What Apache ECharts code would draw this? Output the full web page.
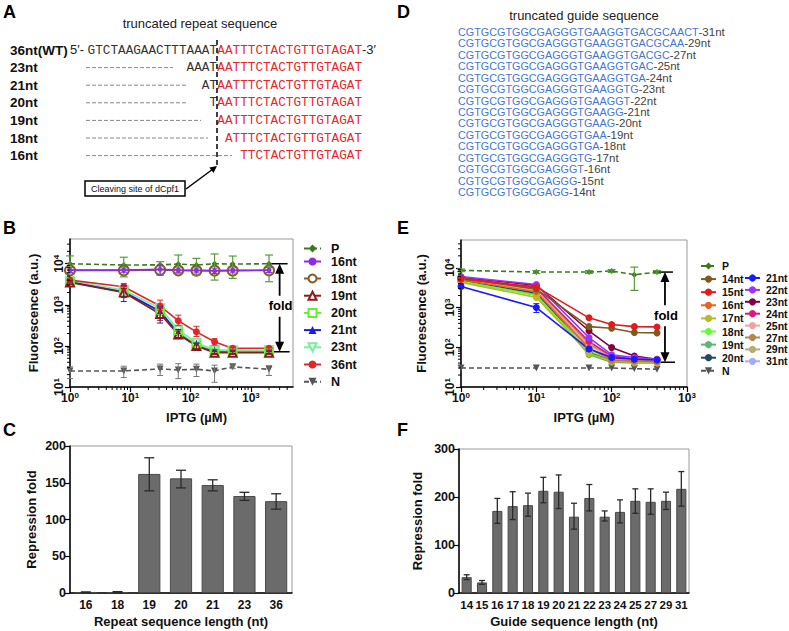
<!DOCTYPE html>
<html><head><meta charset="utf-8">
<script src="https://cdn.jsdelivr.net/npm/echarts@6/dist/echarts.min.js"></script>
<style>html,body{margin:0;padding:0;background:#fff}#c{width:789px;height:631px}</style>
</head><body><div id="c"></div>
<script>
// ---------------- DATA ----------------
// Panel A
const repeatRowLabels = ['36nt(WT)','23nt','21nt','20nt','19nt','18nt','16nt'];
const repeatBlack = ['GTCTAAGAACTTTAAAT','AAAT','AT','T','','',''];
const repeatRed = ['AATTTCTACTGTTGTAGAT','AATTTCTACTGTTGTAGAT','AATTTCTACTGTTGTAGAT','AATTTCTACTGTTGTAGAT','AATTTCTACTGTTGTAGAT','ATTTCTACTGTTGTAGAT','TTCTACTGTTGTAGAT'];
// Panel D
const guideSeqs = ['CGTGCGTGGCGAGGGTGAAGGTGACGCAACT','CGTGCGTGGCGAGGGTGAAGGTGACGCAA','CGTGCGTGGCGAGGGTGAAGGTGACGC','CGTGCGTGGCGAGGGTGAAGGTGAC','CGTGCGTGGCGAGGGTGAAGGTGA','CGTGCGTGGCGAGGGTGAAGGTG','CGTGCGTGGCGAGGGTGAAGGT','CGTGCGTGGCGAGGGTGAAGG','CGTGCGTGGCGAGGGTGAAG','CGTGCGTGGCGAGGGTGAA','CGTGCGTGGCGAGGGTGA','CGTGCGTGGCGAGGGTG','CGTGCGTGGCGAGGGT','CGTGCGTGGCGAGGG','CGTGCGTGGCGAGG'];
const guideLens = ['31nt','29nt','27nt','25nt','24nt','23nt','22nt','21nt','20nt','19nt','18nt','17nt','16nt','15nt','14nt'];

// Panel B (IPTG uM vs fluorescence)
const iptgB = [1, 7.8, 31.25, 62.5, 125, 250, 500, 2000];
const bP   = [10000, 9300, 9400, 9800, 9300, 10000, 9800, 10000];
const bP_lo = [6100, 4800, 5300, 5900, 5300, 4000, 4400, 3650];
const bP_hi = [15500, 14400, 11200, 16300, 13500, 17300, 15400, 16300];
const b16  = [7000, 7000, 7300, 7000, 6900, 6700, 6900, 7000];
const b16_lo = [6000, 6200, 5300, 6200, 6000, 5800, 6000, 6100];
const b16_hi = [8000, 7900, 9300, 7900, 7900, 7800, 7900, 8000];
const b18  = [6900, 6900, 7100, 6900, 6800, 6800, 6800, 6900];
const b19  = [3500, 2000, 600, 190, 100, 68, 68, 68];
const b19_lo = [3100, 1500, 420, 150, 85, 62, 62, 62];
const b19_hi = [3900, 2500, 800, 230, 115, 74, 74, 74];
const b20  = [3700, 2100, 680, 215, 108, 76, 76, 76];
const b20_lo = [3100, 1700, 580, 190, 95, 68, 68, 68];
const b20_hi = [4300, 2600, 800, 245, 120, 84, 84, 84];
const b21  = [3600, 2050, 700, 200, 100, 72, 70, 70];
const b21_lo = [3200, 1200, 360, 160, 85, 65, 65, 65];
const b21_hi = [4000, 3000, 890, 250, 118, 80, 76, 76];
const b23  = [3800, 2300, 820, 250, 120, 80, 78, 78];
const b36  = [4000, 2760, 935, 410, 220, 126, 87, 88];
const b36_lo = [3600, 2300, 720, 310, 170, 105, 80, 80];
const b36_hi = [4400, 3300, 1300, 560, 300, 150, 96, 96];
const bN   = [24.6, 24.6, 27.5, 26, 27, 24.6, 31, 27];
const bN_lo = [16, 17, 19, 16, 18, 13, 28, 19];
const bN_hi = [31, 32, 36, 37, 36, 34, 34, 33];
const bTicksX = [1, 10, 100, 1000];
const bTicksY = [10, 100, 1000, 10000];
const foldB = {x: 3000, top: 10000, bottom: 72};

// Panel E
const iptgE = [1, 10, 50, 100, 200, 400];
const eP   = [8600, 7800, 7800, 8300, 6700, 7800];
const eP_lo = [8000, 7200, 7200, 7600, 2700, 7200];
const eP_hi = [9300, 8500, 8500, 9000, 10400, 8500];
const e14 = [5500, 2900, 330, 300, 235, 230];
const e15 = [5200, 3300, 550, 375, 330, 325];
const e16 = [5000, 2500, 95, 48, 45, 44];
const e17 = [4300, 1800, 70, 45, 42, 40];
const e18 = [4600, 2000, 80, 50, 45, 45];
const e19 = [4500, 2100, 65, 42, 40, 40];
const e20 = [4800, 2300, 75, 48, 42, 42];
const e21 = [3400, 1000, 90, 55, 50, 48];
const e21_lo = [3000, 750, 80, 50, 45, 43];
const e21_hi = [3900, 1250, 100, 60, 55, 53];
const e22 = [6000, 3800, 175, 65, 55, 50];
const e23 = [5800, 3600, 260, 98, 60, 50];
const e24 = [5500, 3100, 140, 60, 50, 45];
const e25 = [5000, 2700, 110, 55, 48, 45];
const e27 = [5200, 2900, 120, 58, 50, 47];
const e29 = [4700, 2200, 95, 52, 46, 44];
const e31 = [5300, 3000, 130, 60, 52, 48];
const eN  = [30, 30, 30, 30, 29, 28];
const eTicksX = [1, 10, 100, 1000];
const eTicksY = [10, 100, 1000, 10000];
const foldE = {x: 510, top: 7800, bottom: 42};

// Panel C
const repeatLenCats = ['16','18','19','20','21','23','36'];
const repeatFold    = [1, 1.2, 162, 156, 147, 132, 125];
const repeatFold_lo = [0.5, 0.6, 139, 143, 139, 126, 114];
const repeatFold_hi = [1.5, 1.8, 184, 167, 154, 137, 135];

// Panel F
const guideLenCats = ['14','15','16','17','18','19','20','21','22','23','24','25','27','29','31'];
const guideFold    = [33, 22, 171, 181, 183, 213, 211, 159, 198, 159, 169, 192, 190, 192, 217];
const guideFold_lo = [28, 18, 145, 153, 160, 188, 176, 133, 171, 150, 146, 166, 164, 174, 181];
const guideFold_hi = [38, 26, 197, 211, 208, 241, 246, 187, 226, 171, 194, 217, 217, 210, 253];

// ---------------- STYLE / HELPERS ----------------
const F = '"Liberation Sans", Arial, Helvetica, sans-serif';
const MONO = '"Liberation Mono", "Courier New", monospace';
const chart = echarts.init(document.getElementById('c'), null, {renderer: 'svg'});

function powLabel(v) {
  const e = Math.log10(v);
  if (Math.abs(e - Math.round(e)) > 1e-6) return '';
  return '{b|10}{s|' + Math.round(e) + '}';
}
const powRich = {
  b: {fontSize: 12, fontWeight: 'bold', fontFamily: F, color: '#111', lineHeight: 14},
  s: {fontSize: 8, fontWeight: 'bold', fontFamily: F, color: '#111', lineHeight: 8, verticalAlign: 'top'}
};
const axisLineS = {lineStyle: {color: '#000', width: 1.5}};
const nameS = (shift) => ({fontWeight: 'bold', fontSize: 13, color: '#111', fontFamily: F, padding: [0, 0, 0, shift || 0]});

function logAxis(gi, min, max, ticks, name, gap, shift, isY) {
  return {
    type: 'log', logBase: 10, gridIndex: gi, min: min, max: max,
    name: name, nameLocation: 'middle', nameGap: gap, nameTextStyle: nameS(shift),
    axisLine: axisLineS,
    axisTick: {customValues: ticks, length: 5, lineStyle: {color: '#000', width: 1.2}},
    axisLabel: {customValues: ticks, formatter: powLabel, rich: powRich, margin: 4, rotate: isY ? 90 : 0},
    splitLine: {show: false}, minorTick: {show: false}
  };
}
function minorTicks(min, max) {
  const out = [];
  for (let e = Math.floor(Math.log10(min)); e <= Math.ceil(Math.log10(max)); e++) {
    for (let k = 2; k <= 9; k++) { const v = k * Math.pow(10, e); if (v > min && v < max) out.push(v); }
  }
  return out;
}
function minorTickSeries(gi, dim, vals, xmin, ymin) {
  return {
    type: 'custom', xAxisIndex: gi, yAxisIndex: gi, silent: true, clip: false, z: 5,
    data: vals.map(v => dim === 'y' ? [xmin, v] : [v, ymin]),
    encode: {x: 0, y: 1},
    renderItem: function (params, api) {
      const p = api.coord([api.value(0), api.value(1)]);
      const shape = dim === 'y' ? {x1: p[0] - 3, y1: p[1], x2: p[0], y2: p[1]} : {x1: p[0], y1: p[1], x2: p[0], y2: p[1] + 3};
      return {type: 'line', shape: shape, style: {stroke: '#000', lineWidth: 1}};
    }
  };
}
function errSeries(gi, color, xs, lo, hi, cap, lw) {
  return {
    type: 'custom', xAxisIndex: gi, yAxisIndex: gi, silent: true, clip: false, z: 4,
    data: xs.map((x, i) => [x, lo[i], hi[i]]),
    encode: {x: 0, y: [1, 2]},
    renderItem: function (params, api) {
      const x = api.value(0);
      const a = api.coord([x, api.value(1)]), b = api.coord([x, api.value(2)]);
      const st = {stroke: color, lineWidth: lw};
      return {type: 'group', children: [
        {type: 'line', shape: {x1: a[0], y1: a[1], x2: b[0], y2: b[1]}, style: st},
        {type: 'line', shape: {x1: a[0] - cap, y1: a[1], x2: a[0] + cap, y2: a[1]}, style: st},
        {type: 'line', shape: {x1: b[0] - cap, y1: b[1], x2: b[0] + cap, y2: b[1]}, style: st}
      ]};
    }
  };
}
function lineSeries(gi, name, xs, ys, color, symbol, size, opts) {
  opts = opts || {};
  return {
    type: 'line', name: name, xAxisIndex: gi, yAxisIndex: gi,
    data: xs.map((x, i) => [x, ys[i]]),
    symbol: symbol, symbolSize: size, symbolRotate: opts.rotate || 0,
    lineStyle: {color: color, width: opts.width || 1.6, type: opts.dashed ? [5, 3] : 'solid'},
    itemStyle: {color: color, borderWidth: opts.bw || 1.5},
    emphasis: {disabled: true}, animation: false, z: opts.z || 2
  };
}

// ---------------- SERIES ----------------
const series = [];
// Panel B
series.push(lineSeries(0, 'B|N', iptgB, bN, '#555', 'triangle', 7, {dashed: true, rotate: 180}));
series.push(lineSeries(0, 'B|P', iptgB, bP, '#3b7a1c', 'diamond', 6, {dashed: true, z: 3}));
series.push(lineSeries(0, 'B|18nt', iptgB, b18, '#8a5a2b', 'emptyCircle', 10));
series.push(lineSeries(0, 'B|16nt', iptgB, b16, '#8e2be2', 'circle', 5, {z: 3}));
series.push(lineSeries(0, 'B|20nt', iptgB, b20, '#66ee33', 'emptyRect', 8));
series.push(lineSeries(0, 'B|23nt', iptgB, b23, '#77eea0', 'emptyTriangle', 8, {rotate: 180}));
series.push(lineSeries(0, 'B|21nt', iptgB, b21, '#1a1aee', 'triangle', 7));
series.push(lineSeries(0, 'B|36nt', iptgB, b36, '#e3262a', 'circle', 7));
series.push(lineSeries(0, 'B|19nt', iptgB, b19, '#8b1a1a', 'emptyTriangle', 8));
series.push(errSeries(0, '#5a9a3a', iptgB, bP_lo, bP_hi, 4, 1.2));
series.push(errSeries(0, '#8e2be2', iptgB, b16_lo, b16_hi, 3, 1));
series.push(errSeries(0, '#66ee33', iptgB, b20_lo, b20_hi, 3, 1));
series.push(errSeries(0, '#1a1aee', iptgB, b21_lo, b21_hi, 3, 1));
series.push(errSeries(0, '#e3262a', iptgB, b36_lo, b36_hi, 3, 1));
series.push(errSeries(0, '#8b1a1a', iptgB, b19_lo, b19_hi, 3, 1));
series.push(errSeries(0, '#777', iptgB, bN_lo, bN_hi, 3, 1));
series.push(minorTickSeries(0, 'y', minorTicks(10, 40000), 1, 10));
series.push(minorTickSeries(0, 'x', minorTicks(1, 5000), 1, 10));

// Panel E
const eDefs = [
  ['E|31nt', e31, '#aaaaf5'], ['E|29nt', e29, '#b8ad6e'], ['E|27nt', e27, '#b3864a'],
  ['E|25nt', e25, '#eea3a3'], ['E|24nt', e24, '#d81b78'], ['E|20nt', e20, '#234a5a'],
  ['E|19nt', e19, '#5cb870'], ['E|18nt', e18, '#66ff33'], ['E|17nt', e17, '#bcb82a'],
  ['E|16nt', e16, '#e8641e'], ['E|23nt', e23, '#800040'], ['E|22nt', e22, '#9933ff'],
  ['E|21nt', e21, '#1a1aff'], ['E|14nt', e14, '#80591f'], ['E|15nt', e15, '#e41a1c']
];
series.push(lineSeries(1, 'E|N', iptgE, eN, '#555', 'triangle', 7, {dashed: true, rotate: 180}));
eDefs.forEach(d => series.push(lineSeries(1, d[0], iptgE, d[1], d[2], 'circle', 7)));
series.push(lineSeries(1, 'E|P', iptgE, eP, '#3b7a1c', 'diamond', 6, {dashed: true, z: 3}));
series.push(errSeries(1, '#5a9a3a', iptgE, eP_lo, eP_hi, 4, 1.2));
series.push(errSeries(1, '#1a1aff', iptgE, e21_lo, e21_hi, 3, 1));
series.push(minorTickSeries(1, 'y', minorTicks(10, 50000), 1, 10));
series.push(minorTickSeries(1, 'x', minorTicks(1, 1000), 1, 10));

// Panel C
series.push({type: 'bar', xAxisIndex: 2, yAxisIndex: 2, data: repeatFold, barWidth: '70%',
  itemStyle: {color: '#6b6b6b', borderColor: '#4a4a4a', borderWidth: 1}, silent: true, animation: false});
series.push(errSeries(2, '#2a2a2a', repeatLenCats.map((c, i) => i), repeatFold_lo, repeatFold_hi, 5, 1.3));
// Panel F
series.push({type: 'bar', xAxisIndex: 3, yAxisIndex: 3, data: guideFold, barWidth: '66%',
  itemStyle: {color: '#6b6b6b', borderColor: '#4a4a4a', borderWidth: 1}, silent: true, animation: false});
series.push(errSeries(3, '#2a2a2a', guideLenCats.map((c, i) => i), guideFold_lo, guideFold_hi, 3, 1.3));

// ---------------- OPTION ----------------
const catAxis = (gi, cats, name, fs) => ({
  type: 'category', gridIndex: gi, data: cats, name: name, nameLocation: 'middle', nameGap: 22,
  nameTextStyle: nameS(0), axisLine: axisLineS, axisTick: {show: false},
  axisLabel: {fontWeight: 'bold', fontSize: fs, color: '#111', margin: 6, interval: 0}
});
const valAxis = (gi, max, interval, name, gap) => ({
  type: 'value', gridIndex: gi, min: 0, max: max, interval: interval, name: name,
  nameLocation: 'middle', nameGap: gap, nameTextStyle: nameS(0), axisLine: {show: true, lineStyle: {color: '#000', width: 1.5}},
  axisTick: {show: true, length: 5, lineStyle: {color: '#000', width: 1.2}},
  axisLabel: {fontWeight: 'bold', fontSize: 12.5, color: '#111', margin: 4}, splitLine: {show: false}
});
const legendText = (fs, lh, pl) => ({fontWeight: 'bold', fontSize: fs, color: '#111', fontFamily: F, lineHeight: lh, padding: [0, 0, 0, pl]});
const stripName = n => n.split('|')[1];

const option = {
  animation: false,
  textStyle: {fontFamily: F},
  grid: [
    {left: 70, top: 239, width: 223, height: 148, show: true, borderColor: '#999', borderWidth: 1},
    {left: 461, top: 240, width: 226, height: 147, show: true, borderColor: '#999', borderWidth: 1},
    {left: 70, top: 446, width: 222, height: 147, show: true, borderColor: '#999', borderWidth: 1},
    {left: 459, top: 449, width: 230, height: 144, show: true, borderColor: '#999', borderWidth: 1}
  ],
  xAxis: [
    logAxis(0, 1, 5000, bTicksX, 'IPTG (µM)', 24, 30, false),
    logAxis(1, 1, 1000, eTicksX, 'IPTG (µM)', 24, 20, false),
    catAxis(2, repeatLenCats, 'Repeat sequence length (nt)', 12),
    catAxis(3, guideLenCats, 'Guide sequence length (nt)', 11.5)
  ],
  yAxis: [
    logAxis(0, 10, 40000, bTicksY, 'Fluorescence (a.u.)', 30, 0, true),
    logAxis(1, 10, 50000, eTicksY, 'Fluorescence (a.u.)', 33, 0, true),
    valAxis(2, 200, 50, 'Repression fold', 32),
    valAxis(3, 300, 100, 'Repression fold', 35)
  ],
  legend: [
    {data: ['B|P', 'B|16nt'], orient: 'vertical', left: 298, top: 237, itemWidth: 17, itemHeight: 10, itemGap: 0,
     selectedMode: false, formatter: stripName, textStyle: legendText(12.5, 11, 5)},
    {data: ['B|18nt', 'B|19nt', 'B|20nt', 'B|21nt', 'B|23nt', 'B|36nt', 'B|N'], orient: 'vertical', left: 298, top: 267,
     itemWidth: 17, itemHeight: 10, itemGap: 4.2, selectedMode: false, formatter: stripName, textStyle: legendText(12.5, 12, 5)},
    {data: ['E|P', 'E|14nt', 'E|15nt', 'E|16nt', 'E|17nt', 'E|18nt', 'E|19nt', 'E|20nt', 'E|N'], orient: 'vertical', left: 695, top: 255,
     itemWidth: 15, itemHeight: 9, itemGap: 1.1, selectedMode: false, formatter: stripName, textStyle: legendText(10.5, 12, 1)},
    {data: ['E|21nt', 'E|22nt', 'E|23nt', 'E|24nt', 'E|25nt', 'E|27nt', 'E|29nt', 'E|31nt'], orient: 'vertical', left: 739, top: 267.5,
     itemWidth: 15, itemHeight: 9, itemGap: 0.9, selectedMode: false, formatter: stripName, textStyle: legendText(10.5, 11, 1)}
  ],
  series: series
};
chart.setOption(option);

// ---------------- GRAPHICS (panels A, D, labels, fold arrows) ----------------
const g = [];
function txt(x, y, text, o) {
  o = o || {};
  g.push({type: 'text', x: x, y: y, silent: true, style: Object.assign({
    text: text, fontFamily: F, fontSize: 13, fill: '#111', align: 'left', verticalAlign: 'middle'}, o)});
}
function ln(x1, y1, x2, y2, st) { g.push({type: 'line', silent: true, shape: {x1, y1, x2, y2}, style: Object.assign({stroke: '#000', lineWidth: 1.5}, st || {})}); }
function poly(pts, fill) { g.push({type: 'polygon', silent: true, shape: {points: pts}, style: {fill: fill || '#000'}}); }

// Panel letters
[['A', 3, 12], ['B', 3, 228], ['C', 3, 430], ['D', 397, 12], ['E', 397, 228], ['F', 397, 430]]
  .forEach(p => txt(p[1], p[2], p[0], {fontSize: 18, fontWeight: 'bold', fill: '#000'}));

// Panel A
txt(200, 23, 'truncated repeat sequence', {align: 'center', fontSize: 13, fill: '#222'});
const dashEndA = [0, 173, 187, 186, 201, 208, 232];
repeatRowLabels.forEach((lab, i) => {
  const y = 50 + i * 17.6;
  txt(10, y, lab, {fontWeight: 'bold', fontSize: 13.5, fill: '#111'});
  if (i === 0) {
    txt(70, y - 1, '5′-', {fontSize: 13, fill: '#222'});
    txt(362, y - 1, '-3′', {fontSize: 13, fill: '#222'});
  } else {
    ln(86, y, dashEndA[i], y, {stroke: '#888', lineWidth: 1, lineDash: [4, 2]});
  }
  if (repeatBlack[i]) txt(217, y, repeatBlack[i], {fontFamily: MONO, fontSize: 12.7, fill: '#333', align: 'right'});
  txt(362, y, repeatRed[i], {fontFamily: MONO, fontSize: 12.7, fill: '#e8262b', align: 'right'});
});
ln(217, 40, 217, 166, {lineDash: [5, 3], lineWidth: 1.5});
g.push({type: 'rect', silent: true, shape: {x: 85, y: 181, width: 100, height: 15}, style: {fill: '#fff', stroke: '#000', lineWidth: 1.5}});
txt(135, 188.5, 'Cleaving site of dCpf1', {align: 'center', fontSize: 9, fill: '#111'});
ln(186, 189, 213, 169, {lineWidth: 1.5});
poly([[217, 166], [213.5, 173], [209.3, 167.4]]);

// Panel D
txt(584, 15, 'truncated guide sequence', {align: 'center', fontSize: 13, fill: '#222'});
guideSeqs.forEach((s, i) => {
  txt(458, 32 + i * 11.43, '{b|' + s + '}{g|-' + guideLens[i] + '}', {
    lineHeight: 10,
    rich: {b: {fill: '#4577d0', fontSize: 10.8, fontFamily: F, lineHeight: 10}, g: {fill: '#444', fontSize: 11.5, fontFamily: F, lineHeight: 10}}});
});

// Fold arrows
function fold(gi, f, halfW) {
  const t = chart.convertToPixel({xAxisIndex: gi, yAxisIndex: gi}, [f.x, f.top]);
  const b = chart.convertToPixel({xAxisIndex: gi, yAxisIndex: gi}, [f.x, f.bottom]);
  const x = t[0], mid = (t[1] + b[1]) / 2 - 2;
  ln(x - halfW, t[1], x + halfW - 4, t[1], {lineWidth: 1.5});
  ln(x - halfW + 2, b[1], x + halfW - 2, b[1], {lineWidth: 1.5});
  txt(x + 1, mid, 'fold', {align: 'center', fontWeight: 'bold', fontSize: 13, fill: '#000'});
  ln(x, mid - 10, x, t[1] + 6, {lineWidth: 1.8});
  poly([[x, t[1]], [x - 4.5, t[1] + 10], [x + 4.5, t[1] + 10]]);
  ln(x, mid + 11, x, b[1] - 6, {lineWidth: 1.8});
  poly([[x, b[1]], [x - 4.5, b[1] - 10], [x + 4.5, b[1] - 10]]);
}
fold(0, foldB, 12);
fold(1, foldE, 12);

chart.setOption({graphic: g});
</script>
</body></html>
